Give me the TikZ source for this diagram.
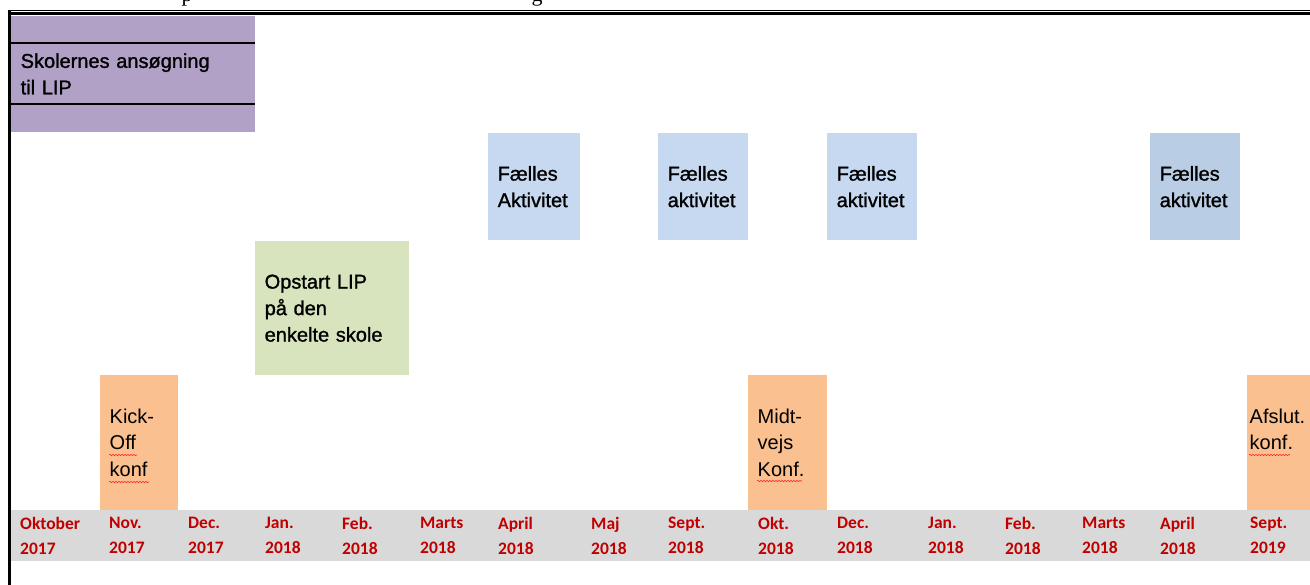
\documentclass[tikz,border=0pt]{standalone}
\usepackage{fontspec}
\setmainfont{Liberation Sans}
\newfontfamily\monthfont{Carlito}
\newfontfamily\heavyfont[FakeBold=1.2]{Liberation Sans}
\newfontfamily\capfont{Liberation Serif}
\usetikzlibrary{decorations.pathmorphing}

\definecolor{lippurple}{HTML}{B2A1C7}
\definecolor{lipgreen}{HTML}{D7E4BD}
\definecolor{lipblue}{HTML}{C6D9F1}
\definecolor{lipbluedark}{HTML}{B9CDE5}
\definecolor{liporange}{HTML}{FAC090}
\definecolor{lipgray}{HTML}{D9D9D9}
\definecolor{monthred}{HTML}{C00000}

\tikzset{
  box/.style={anchor=north west, inner ysep=0pt, inner xsep=9.5pt, align=left,
    font=\fontsize{20}{26.5}\selectfont},
  heavybox/.style={box, font=\heavyfont\fontsize{20}{26.5}\selectfont},
  month/.style={anchor=west, align=left, inner sep=0pt, text=monthred,
    font=\monthfont\bfseries\fontsize{17.5}{25}\selectfont},
  spell/.style={draw=red!85, line width=0.6pt, decorate,
    decoration={snake, amplitude=0.7pt, segment length=3pt}}
}

\begin{document}
\begin{tikzpicture}[x=1pt, y=-1pt]
  \useasboundingbox (0,0) rectangle (1310,585);

  % caption above, cut off
  \node[font=\capfont\fontsize{22}{22}\selectfont, anchor=base, inner sep=0pt] (capp) at (187,2) {p};
  \node[font=\capfont\fontsize{22}{22}\selectfont, anchor=base, inner sep=0pt] (capg) at (537,2) {g};

  % month band
  \fill[lipgray] (11,510) rectangle (1310,560.5);
  \foreach \xm/\mon/\yr in {20/Oktober/2017, 109/Nov./2017, 188/Dec./2017,
      265/Jan./2018, 342/Feb./2018, 420/Marts/2018, 498/April/2018,
      591/Maj/2018, 668/Sept./2018, 758/Okt./2018, 837/Dec./2018,
      928/Jan./2018, 1005/Feb./2018, 1082/Marts/2018, 1160/April/2018,
      1250/Sept./2019} {
    \node[month] (m\xm) at (\xm,535.5) {\mon\\\yr};
  }

  % activities
  \node[heavybox, fill=lippurple, text width=225pt, minimum height=116.5pt] (apply) at (11,15.5)
    {Skolernes ansøgning\\til LIP};
  \node[heavybox, fill=lipgreen, text width=135pt, minimum height=134pt] (start) at (255,241)
    {Opstart LIP\\på den\\enkelte skole};
  \node[heavybox, fill=lipblue, text width=73pt, minimum height=107pt] (joint1) at (488,133)
    {Fælles\\Aktivitet};
  \node[heavybox, fill=lipblue, text width=71pt, minimum height=107pt] (joint2) at (658,133)
    {Fælles\\aktivitet};
  \node[heavybox, fill=lipblue, text width=71pt, minimum height=107pt] (joint3) at (827,133)
    {Fælles\\aktivitet};
  \node[heavybox, fill=lipbluedark, text width=71pt, minimum height=107pt] (joint4) at (1150,133)
    {Fælles\\aktivitet};
  \node[box, fill=liporange, text width=59pt, minimum height=135pt] (kickoff) at (100,375)
    {Kick-\\Off\\konf};
  \node[box, fill=liporange, text width=60pt, minimum height=135pt] (midway) at (748,375)
    {Midt-\\vejs\\Konf.};
  \node[box, fill=liporange, inner xsep=2.5pt, text width=70pt, minimum height=135pt] (closing) at (1247,375)
    {Afslut.\\konf.\\~};

  % lines in the application block
  \draw[line width=2pt] (11,43) -- (255,43);
  \draw[line width=2pt] (11,104) -- (255,104);

  % frame
  \draw[line width=0.9pt] (7.5,10) -- (1310,10);
  \draw[line width=3pt] (7.5,14) -- (1310,14);
  \draw[line width=3pt] (9.5,10) -- (9.5,585);

  % spell check marks
  \draw[spell] (109,455) -- (137,455);
  \draw[spell] (109,482) -- (149,482);
  \draw[spell] (757,481) -- (802,481);
  \draw[spell] (1249,455) -- (1290,455);
\end{tikzpicture}
\end{document}
